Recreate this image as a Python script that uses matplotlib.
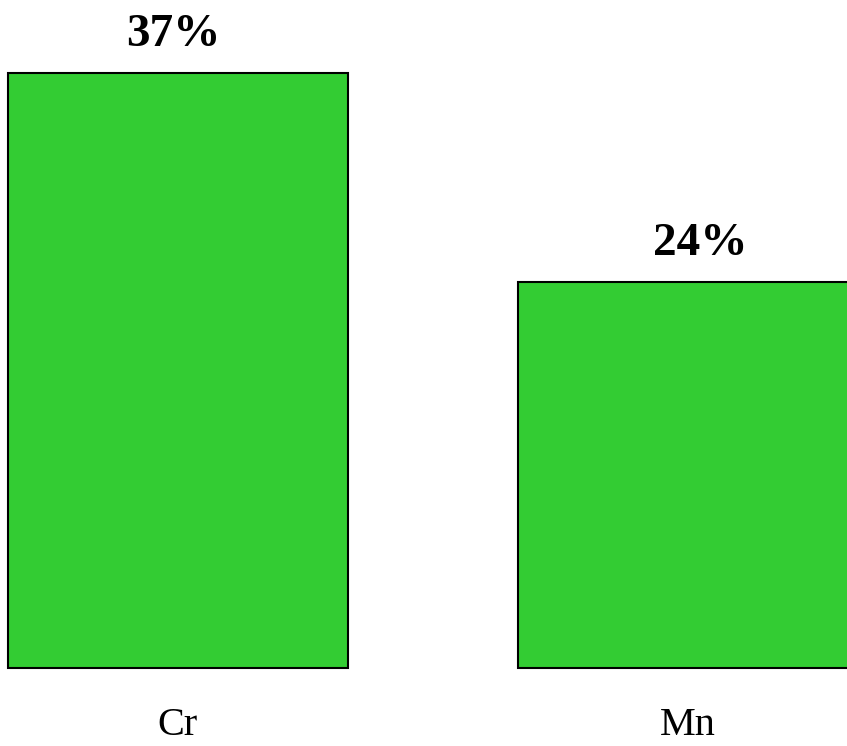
import matplotlib.pyplot as plt

# Share of each element
elements = ["Cr", "Mn"]
shares = [37, 24]
share_labels = ["37%", "24%"]

plt.rcParams["font.family"] = ["Liberation Serif", "DejaVu Serif"]

figure = plt.figure(figsize=(8.47, 7.46), dpi=100)
axis = figure.add_axes([0.0, 78 / 746, 1.0, 668 / 746])

positions = range(len(elements))
bars = axis.bar(
    positions,
    shares,
    width=0.667,
    color="#33cc33",
    edgecolor="black",
    linewidth=1.5,
    clip_on=False,
)

# small horizontal nudges for the value labels, in points
label_shifts = (-3.6, 8.6)

for bar, text, shift in zip(bars, share_labels, label_shifts):
    axis.annotate(
        text,
        xy=(bar.get_x() + bar.get_width() / 2, bar.get_height()),
        xytext=(shift, 20),
        textcoords="offset points",
        ha="center",
        va="baseline",
        fontsize=34,
        fontweight="bold",
        annotation_clip=False,
    )

for pos, name in zip(positions, elements):
    axis.text(
        pos,
        -4.17,
        name,
        ha="center",
        va="baseline",
        fontsize=29,
        clip_on=False,
    )

axis.set_xlim(-0.349, 1.312)
axis.set_ylim(0, 41.57)
axis.axis("off")

figure.savefig("out.png", dpi=100)
plt.close(figure)
